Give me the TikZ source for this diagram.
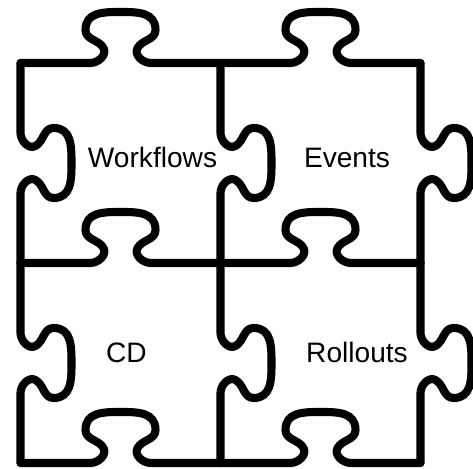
\documentclass[tikz,border=0pt]{standalone}
\usepackage{fontspec}
\setmainfont{Liberation Sans}

\begin{document}
\begin{tikzpicture}[
    piece/.style={
        line width=2.3pt,
        line cap=round,
        line join=round,
    },
    tabedge/.pic={
        \draw[piece] (0,0) -- (0.70,0)
            to[out=0,in=-60] (0.83,0.15)
            to[out=120,in=-90] (0.65,0.33)
            to[out=90,in=180,looseness=1.15] (1,0.51)
            to[out=0,in=90,looseness=1.15] (1.35,0.33)
            to[out=-90,in=60] (1.17,0.15)
            to[out=-120,in=180] (1.30,0)
            -- (2,0);
    },
    caption/.style={
        font=\fontsize{8}{10}\selectfont,
        anchor=base,
        inner sep=0pt,
    }
]
    \useasboundingbox (0,0) rectangle (4.73,4.69);

    % Horizontal edges, tabs up
    \foreach \y in {0.06,2.06,4.06}
        \foreach \x in {0.205,2.205}
            \pic at (\x,\y) {tabedge};

    % Vertical edges, tabs to the right
    \foreach \x in {0.205,2.205,4.205}
        \foreach \y in {0.06,2.06}
            \pic[rotate=-90] at (\x,\y+2) {tabedge};

    % Piece labels
    \node[caption] (workflows) at (1.525,3.01) {Workflows};
    \node[caption] (events) at (3.47,3.01) {Events};
    \node[caption] (cd) at (1.265,1.06) {CD};
    \node[caption] (rollouts) at (3.57,1.06) {Rollouts};
\end{tikzpicture}
\end{document}
